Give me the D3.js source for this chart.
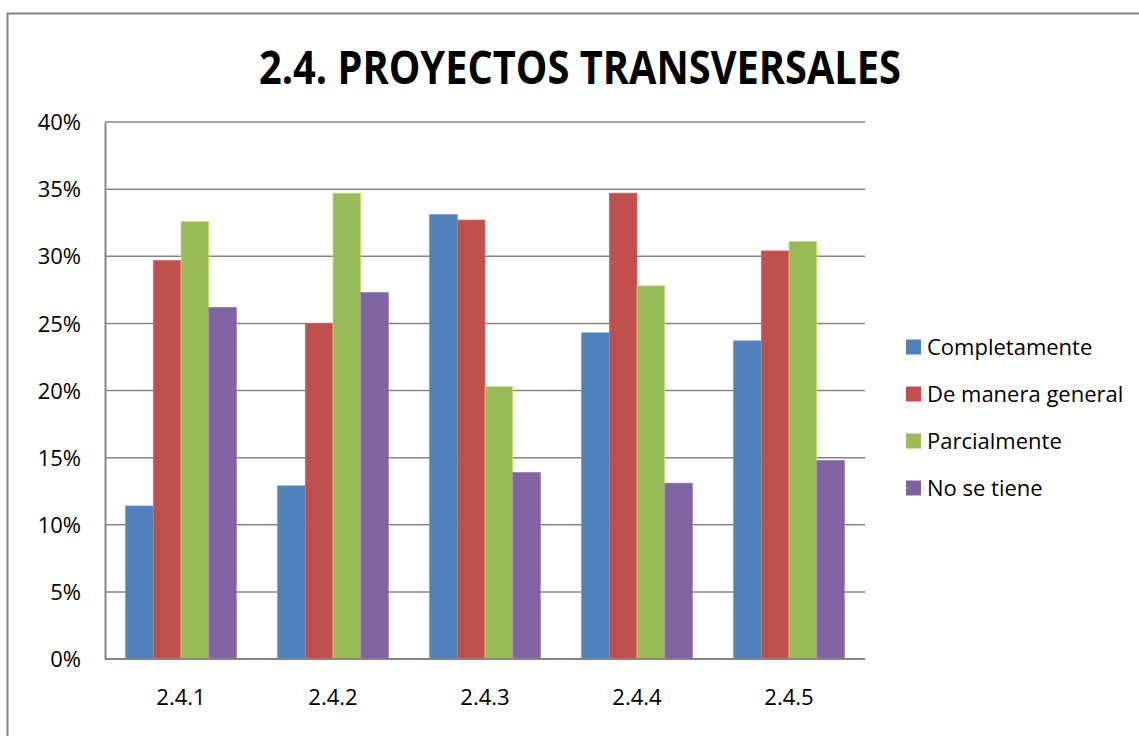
<!DOCTYPE html>
<html>
<head>
<meta charset="utf-8">
<script src="https://cdn.jsdelivr.net/npm/d3@7"></script>
<style>
  body { margin: 0; background: #fff; }
  text { font-family: "Open Sans", "Noto Sans", sans-serif; fill: #000; }
</style>
</head>
<body>
<svg width="1139" height="736"></svg>
<script>
let svg = d3.select("svg");

// donnees
let categories = ["2.4.1", "2.4.2", "2.4.3", "2.4.4", "2.4.5"];
let series = ["Completamente", "De manera general", "Parcialmente", "No se tiene"];
let couleurs = ["#4F81BD", "#C0504D", "#9BBB59", "#8064A2"];
let completamente = [11.4, 12.9, 33.1, 24.3, 23.7];
let demanera = [29.7, 25.0, 32.7, 34.7, 30.4];
let parcialmente = [32.6, 34.7, 20.3, 27.8, 31.1];
let nosetiene = [26.2, 27.3, 13.9, 13.1, 14.8];
let valeurs = [completamente, demanera, parcialmente, nosetiene];
let ticks = [0, 5, 10, 15, 20, 25, 30, 35, 40];

// cadre
svg.append("rect")
    .attr("x", 7.5).attr("y", 13.5)
    .attr("width", 1300).attr("height", 900)
    .style("fill", "none")
    .style("stroke", "#868686")
    .style("stroke-width", 2);

// titre
svg.append("text")
    .attr("x", 580).attr("y", 84)
    .attr("text-anchor", "middle")
    .attr("textLength", 642)
    .attr("lengthAdjust", "spacingAndGlyphs")
    .style("font-size", "46px")
    .style("font-weight", "bold")
    .text("2.4. PROYECTOS TRANSVERSALES");

let x = d3.scaleBand().domain(categories).range([105, 865]).paddingInner(0.27).paddingOuter(0.135);
let xs = d3.scaleBand().domain(series).range([0, x.bandwidth()]);
let y = d3.scaleLinear().domain([0, 40]).range([659, 122]);

// grille
svg.append("g")
    .selectAll("line")
    .data(ticks.slice(1))
    .enter()
    .append("line")
    .attr("x1", 105).attr("x2", 865)
    .attr("y1", d => y(d)).attr("y2", d => y(d))
    .style("stroke", "#868686")
    .style("stroke-width", 1.5);

// axe y
let axeY = svg.append("g")
    .attr("transform", "translate(105,0)")
    .call(d3.axisLeft(y).tickValues(ticks).tickSize(0).tickPadding(24).tickFormat(d => d + "%"));
axeY.select(".domain").style("stroke", "#868686").style("stroke-width", 2);
axeY.selectAll("text").style("font-size", "22px").attr("dy", "0.35em");

// barres
let groupes = svg.append("g")
    .selectAll("g")
    .data(categories)
    .enter()
    .append("g")
    .attr("transform", d => "translate(" + x(d) + ",0)");

groupes.selectAll("rect")
    .data((c, i) => series.map((s, j) => ({ serie: s, valeur: valeurs[j][i], couleur: couleurs[j] })))
    .enter()
    .append("rect")
    .attr("x", d => xs(d.serie))
    .attr("width", xs.bandwidth())
    .attr("y", d => y(d.valeur))
    .attr("height", d => y(0) - y(d.valeur))
    .style("fill", d => d.couleur)
    .style("stroke", d => d3.color(d.couleur).brighter(0.6))
    .style("stroke-width", 0.7);

// axe x
let axeX = svg.append("g")
    .attr("transform", "translate(0,659)")
    .call(d3.axisBottom(x).tickSize(0).tickPadding(30));
axeX.select(".domain").attr("d", "M105,0H865").style("stroke", "#868686").style("stroke-width", 2);
axeX.selectAll("text").style("font-size", "22px");

// legende
let legende = svg.append("g")
    .selectAll("g")
    .data(series)
    .enter()
    .append("g")
    .attr("transform", (d, i) => "translate(906," + [347, 394, 441, 488][i] + ")");
legende.append("rect")
    .attr("x", 0).attr("y", -7.5)
    .attr("width", 15).attr("height", 15)
    .style("fill", (d, i) => couleurs[i]);
legende.append("text")
    .attr("x", 21).attr("y", 0)
    .attr("dy", "0.35em")
    .style("font-size", "22px")
    .text(d => d);
</script>
</body>
</html>
